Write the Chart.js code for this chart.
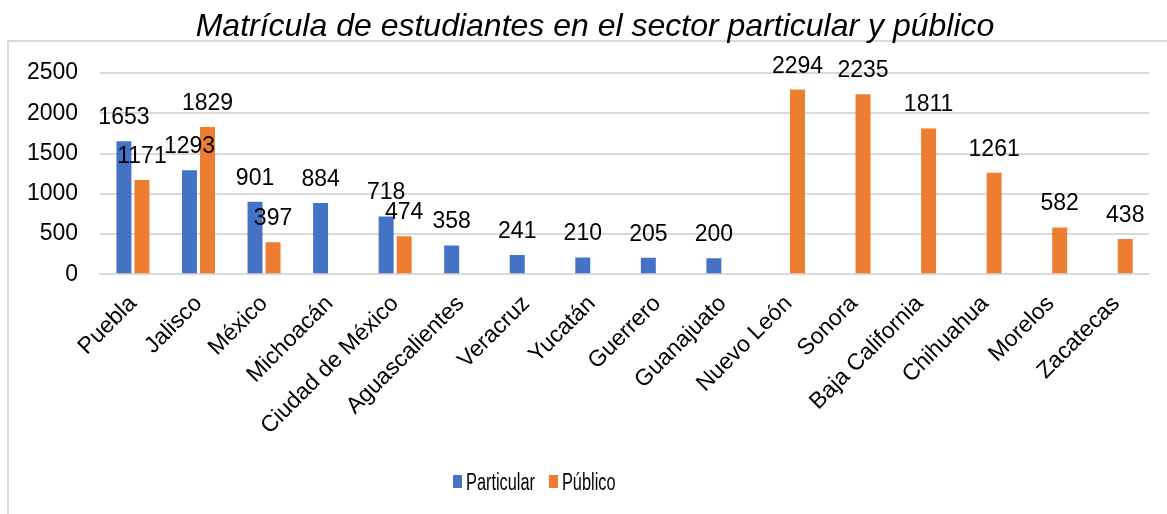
<!DOCTYPE html>
<html>
<head>
<meta charset="utf-8">
<script src="https://cdn.jsdelivr.net/npm/chart.js@4/dist/chart.umd.min.js"></script>
<style>
  html, body { margin: 0; padding: 0; background: #fff; }
  #frame { position: absolute; left: 7px; top: 40px; width: 1200px; height: 520px;
           border-left: 2px solid #d9d9d9; border-top: 2px solid #d9d9d9; }
  #wrap { position: absolute; left: 0; top: 0; width: 1167px; height: 514px; }
</style>
</head>
<body>
<div id="frame"></div>
<div id="wrap"><canvas id="myChart"></canvas></div>
<script>
const titulo = 'Matrícula de estudiantes en el sector particular y público';
const estados = ['Puebla', 'Jalisco', 'México', 'Michoacán', 'Ciudad de México', 'Aguascalientes',
  'Veracruz', 'Yucatán', 'Guerrero', 'Guanajuato', 'Nuevo León', 'Sonora', 'Baja California',
  'Chihuahua', 'Morelos', 'Zacatecas'];
const particular = [1653, 1293, 901, 884, 718, 358, 241, 210, 205, 200, null, null, null, null, null, null];
const publico = [1171, 1829, 397, null, 474, null, null, null, null, null, 2294, 2235, 1811, 1261, 582, 438];
const yTicks = [0, 500, 1000, 1500, 2000, 2500];

const FONT = "'Liberation Sans', Arial, sans-serif";

// etiquetas de datos encima de cada barra
const barLabels = {
  id: 'barLabels',
  afterDatasetsDraw(chart) {
    const { ctx } = chart;
    ctx.save();
    ctx.font = `23px ${FONT}`;
    ctx.fillStyle = '#000';
    ctx.textAlign = 'center';
    ctx.textBaseline = 'alphabetic';
    chart.data.datasets.forEach((ds, i) => {
      chart.getDatasetMeta(i).data.forEach((bar, j) => {
        const v = ds.data[j];
        if (v == null) return;
        ctx.fillText(String(v), bar.x, bar.y - 17);
      });
    });
    ctx.restore();
  }
};

// titulo y leyenda estilo Excel (leyenda con texto angosto)
const excelDecor = {
  id: 'excelDecor',
  afterDraw(chart) {
    const { ctx } = chart;
    ctx.save();
    ctx.fillStyle = '#000';
    ctx.font = `italic 32px ${FONT}`;
    ctx.textAlign = 'center';
    ctx.textBaseline = 'alphabetic';
    ctx.fillText(titulo, 595, 36);

    const sx = 0.71;
    let x = 453;
    const base = 490;
    ctx.font = `23px ${FONT}`;
    ctx.textAlign = 'left';
    chart.data.datasets.forEach((ds) => {
      ctx.fillStyle = ds.backgroundColor;
      ctx.fillRect(x, base - 15, 9, 13);
      x += 13;
      const w = ctx.measureText(ds.label).width * sx;
      ctx.save();
      ctx.translate(x, base);
      ctx.scale(sx, 1);
      ctx.fillStyle = '#000';
      ctx.fillText(ds.label, 0, 0);
      ctx.restore();
      x += w + 14;
    });
    ctx.restore();
  }
};

new Chart('myChart', {
  type: 'bar',
  data: {
    labels: estados,
    datasets: [
      { label: 'Particular', data: particular, backgroundColor: '#4472C4' },
      { label: 'Público', data: publico, backgroundColor: '#ED7D31' }
    ]
  },
  options: {
    responsive: true,
    maintainAspectRatio: false,
    animation: false,
    categoryPercentage: 0.55,
    barPercentage: 0.83,
    layout: { padding: { left: 5, right: 18, top: 73, bottom: 66 } },
    plugins: {
      title: { display: false },
      legend: { display: false },
      tooltip: { enabled: false }
    },
    scales: {
      x: {
        grid: { display: false },
        border: { color: '#d9d9d9', width: 2 },
        ticks: {
          color: '#000',
          font: { family: FONT, size: 23 },
          minRotation: 45,
          maxRotation: 45,
          padding: 8
        }
      },
      y: {
        min: 0,
        max: 2500,
        afterBuildTicks: (axis) => { axis.ticks = yTicks.map(v => ({ value: v })); },
        grid: { color: '#d9d9d9', lineWidth: 2, drawTicks: false },
        border: { display: false },
        ticks: {
          color: '#000',
          font: { family: FONT, size: 23 },
          padding: 22,
          callback: (v) => String(v)
        }
      }
    }
  },
  plugins: [barLabels, excelDecor]
});
</script>
</body>
</html>
